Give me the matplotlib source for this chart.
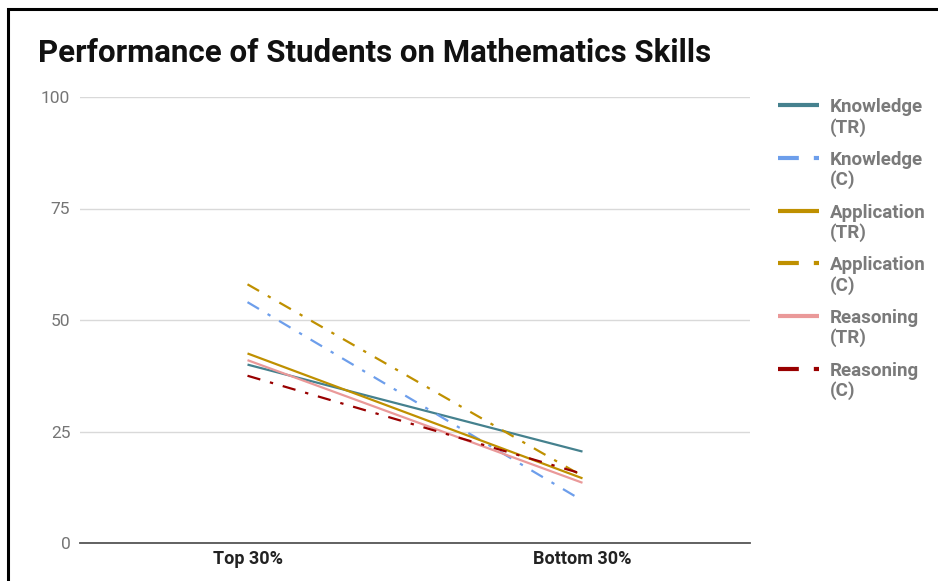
import matplotlib.pyplot as plt
from matplotlib.patches import Rectangle
from matplotlib.legend_handler import HandlerLine2D

plt.rcParams['font.family'] = ['Roboto', 'DejaVu Sans']

groups = ["Top 30%", "Bottom 30%"]
series_names = ["Knowledge\n(TR)", "Knowledge\n(C)", "Application\n(TR)",
                "Application\n(C)", "Reasoning\n(TR)", "Reasoning\n(C)"]
knowledge_tr = [40.0, 20.5]
knowledge_c = [54.0, 9.5]
application_tr = [42.5, 14.5]
application_c = [58.0, 15.0]
reasoning_tr = [41.0, 13.5]
reasoning_c = [37.5, 15.5]
y_ticks = [0, 25, 50, 75, 100]

values = [knowledge_tr, knowledge_c, application_tr, application_c, reasoning_tr, reasoning_c]
colors = ["#45818e", "#6d9eeb", "#bf9000", "#bf9000", "#ea9999", "#990000"]
dashdot = (0, (6, 4.5, 1.5, 4.5))
styles = ["-", dashdot, "-", dashdot, "-", dashdot]


class RaisedLine(HandlerLine2D):
    # put the handle next to the first line of a two-line label
    def create_artists(self, legend, orig_handle, xdescent, ydescent,
                       width, height, fontsize, trans):
        arts = super().create_artists(legend, orig_handle, xdescent, ydescent,
                                      width, height, fontsize, trans)
        for a in arts:
            a.set_ydata([y + 0.67 * fontsize for y in a.get_ydata()])
        return arts


fig = plt.figure(figsize=(9.38, 5.81), dpi=100)
ax = fig.add_axes([80 / 938, 1 - 543 / 581, 670 / 938, 446 / 581])

x = list(range(len(groups)))
for name, vals, col, ls in zip(series_names, values, colors, styles):
    ax.plot(x, vals, color=col, linestyle=ls, linewidth=1.6, label=name,
            solid_capstyle="butt", dash_capstyle="butt")

ax.set_xlim(-0.5, 1.5)
ax.set_ylim(0, 100)
ax.set_yticks(y_ticks)
ax.set_xticks(x)
ax.set_xticklabels(groups, fontsize=13, fontweight="bold", color="#222222",
                   family=["Liberation Sans Narrow", "Roboto"])
ax.tick_params(axis="y", length=0, pad=7, labelsize=12.5, labelcolor="#757575")
ax.tick_params(axis="x", length=0, pad=5)
ax.yaxis.grid(True, color="#d9d9d9", linewidth=1)
ax.set_axisbelow(True)
for s in ["top", "right", "left"]:
    ax.spines[s].set_visible(False)
ax.spines["bottom"].set_color("#555555")
ax.spines["bottom"].set_linewidth(1.3)

fig.text(38 / 938, 1 - 53 / 581, "Performance of Students on Mathematics Skills",
         fontsize=22.5, fontweight="bold", color="#111111", va="center")

leg = ax.legend(loc="upper left", bbox_to_anchor=(1.017, 1.035), frameon=False,
                fontsize=13.5, handlelength=2.15, handletextpad=0.62, labelspacing=0.77,
                handler_map={plt.Line2D: RaisedLine()})
for t in leg.get_texts():
    t.set_color("#7a7a7a")
    t.set_fontweight("bold")
    t.set_linespacing(1.1)
for h, ls in zip(leg.get_lines(), styles):
    h.set_linewidth(3)
    if ls != "-":
        h.set_linestyle((0, (5, 3.6, 1.5, 4)))

# frame around the whole chart
fig.patches.append(Rectangle((8 / 938, -0.05), 1.2, 1 - 9 / 581 + 0.05,
                             transform=fig.transFigure, fill=False,
                             edgecolor="black", linewidth=2.2))

fig.savefig("out.png", dpi=100)
